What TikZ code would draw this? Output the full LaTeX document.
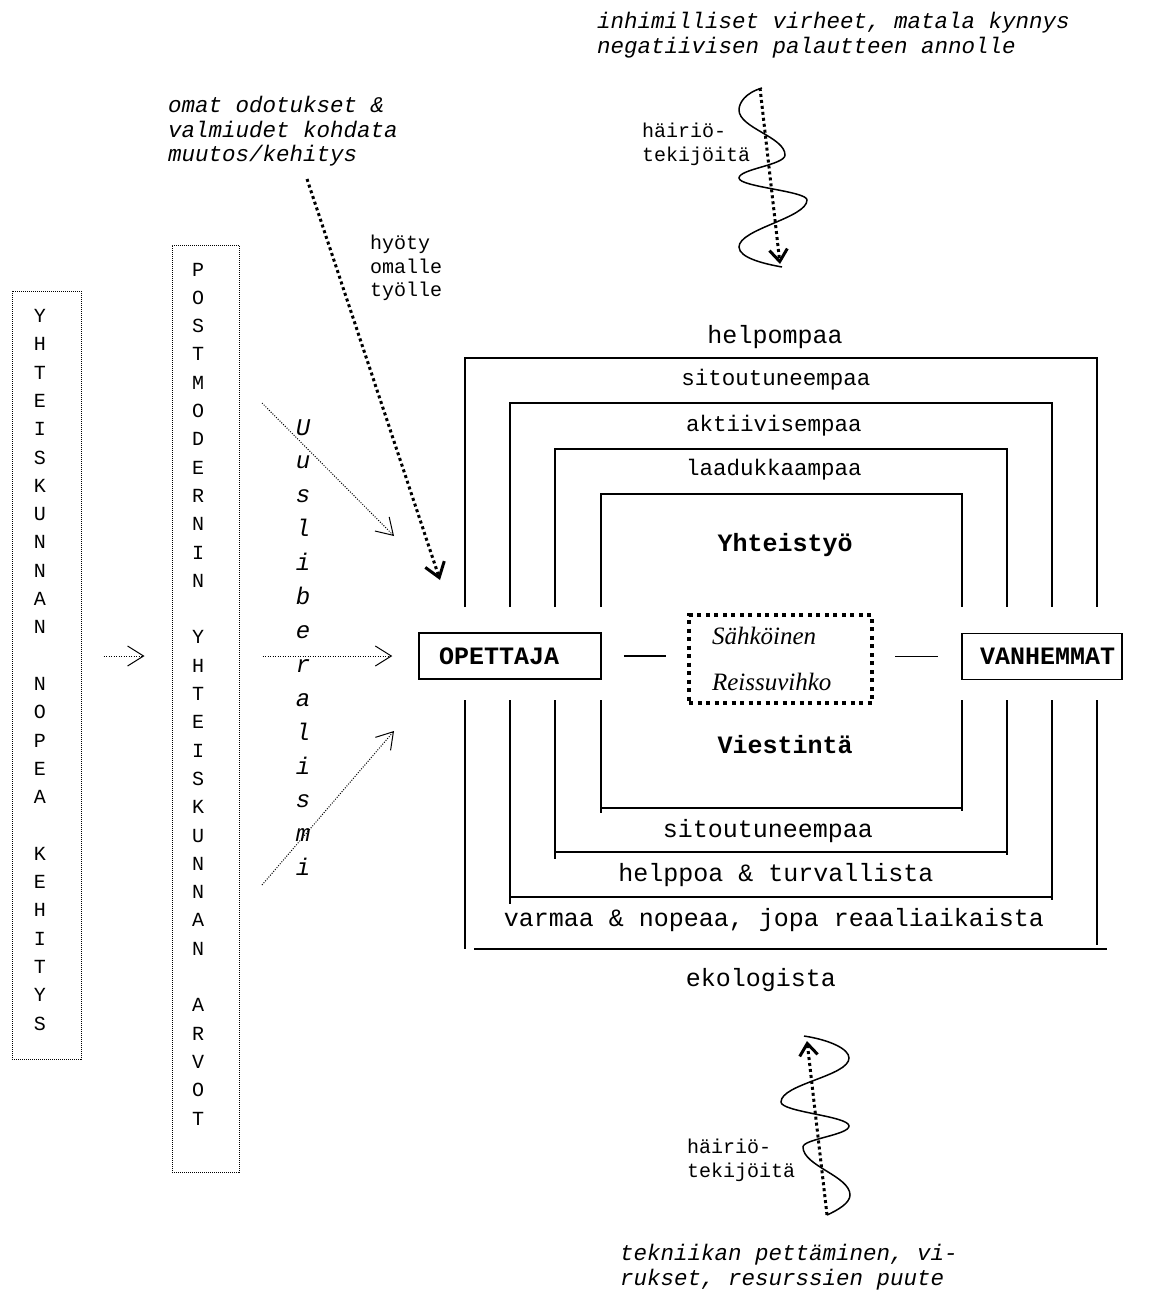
\documentclass[tikz,border=0pt]{standalone}
\usepackage{fontspec}
\setmainfont{Liberation Serif}
\newfontfamily\monof{Liberation Mono}
\usetikzlibrary{arrows.meta}
\tikzset{
  lblL/.style={font=\monof\fontsize{25}{30}\selectfont, inner sep=0pt},
  lblM/.style={font=\monof\fontsize{22.5}{27}\selectfont, inner sep=0pt},
  boldlbl/.style={font=\monof\bfseries\fontsize{25}{30}\selectfont, inner sep=0pt},
  itx/.style={font=\monof\itshape\fontsize{22.5}{24.5}\selectfont, inner sep=0pt, align=left, anchor=north west},
  smx/.style={font=\monof\fontsize{20}{23.5}\selectfont, inner sep=0pt, align=left, anchor=north west},
  vlet/.style={font=\monof\fontsize{20}{24}\selectfont, inner sep=0pt, anchor=base},
  ulet/.style={font=\monof\itshape\fontsize{24}{28}\selectfont, inner sep=0pt, anchor=base},
  frm/.style={line width=1.5pt},
  actor/.style={draw, line width=1.5pt, font=\monof\bfseries\fontsize{25}{30}\selectfont,
    inner xsep=5pt, inner ysep=0pt, minimum height=46pt},
  srbox/.style={draw, line width=4pt, dash pattern=on 4pt off 4.5pt,
    minimum width=183pt, minimum height=88pt, text width=137pt, inner xsep=23pt,
    align=left, font=\itshape\fontsize{25}{46}\selectfont},
  vbox/.style={draw, line width=1pt, dash pattern=on 1pt off 1pt},
  thinarr/.style={line width=1pt, dash pattern=on 1pt off 1.5pt,
    -{Straight Barb[length=16pt,width=20pt]}},
  thickarr/.style={line width=3pt, dash pattern=on 3pt off 3pt,
    -{Straight Barb[length=14pt,width=20pt]}},
  wavearr/.style={line width=3pt, dash pattern=on 3pt off 3pt,
    -{Straight Barb[length=12pt,width=18pt]}},
  wavy/.style={line width=1.5pt},
  conn/.style={line width=1.5pt},
}
\begin{document}
\begin{tikzpicture}[x=1pt,y=-1pt]
\fill[white] (0,0) rectangle (1152,1300);
\useasboundingbox (0,0) rectangle (1152,1300);

% ---------- texts top ----------
\node[itx] (virheet) at (597,12) {inhimilliset virheet, matala kynnys\\negatiivisen palautteen annolle};
\node[itx] (odotukset) at (168,96) {omat odotukset \&\\valmiudet kohdata\\muutos/kehitys};
\node[smx] (hyoty) at (370,235) {hyöty\\omalle\\työlle};
\node[smx] (hairio1) at (642,123) {häiriö-\\tekijöitä};

% ---------- left columns ----------
\node[vbox, minimum width=69pt, minimum height=768pt] (col1) at (46.5,675) {};
\node[vbox, minimum width=67pt, minimum height=927pt] (col2) at (205.5,708.5) {};
\foreach \ch [count=\i from 0] in {Y,H,T,E,I,S,K,U,N,N,A,N,{},N,O,P,E,A,{},K,E,H,I,T,Y,S}
  \node[vlet] (ca\i) at (40,322.5+\i*28.3) {\ch};
\foreach \ch [count=\i from 0] in {P,O,S,T,M,O,D,E,R,N,I,N,{},Y,H,T,E,I,S,K,U,N,N,A,N,{},A,R,V,O,T}
  \node[vlet] (cb\i) at (198,276+\i*28.3) {\ch};
\foreach \ch [count=\i from 0] in {U,u,s,l,i,b,e,r,a,l,i,s,m,i}
  \node[ulet] (ul\i) at (303,435+\i*33.9) {\ch};

% ---------- actors ----------
\node[actor] (ope) at (510,656) {\makebox[172pt][l]{\hspace*{15pt}OPETTAJA}};
\node[actor] (van) at (1042,656.5) {\makebox[150pt][l]{\hspace*{13pt}VANHEMMAT}};
\node[srbox] (sr) at (780.5,659) {Sähköinen\\Reissuvihko};

% ---------- frames top ----------
\draw[frm] (465,607) -- (465,358) -- (1097,358) -- (1097,607);
\draw[frm] (510,607) -- (510,403) -- (1052,403) -- (1052,607);
\draw[frm] (555,607) -- (555,449) -- (1007,449) -- (1007,607);
\draw[frm] (601,607) -- (601,494) -- (962,494) -- (962,607);
% ---------- frames bottom ----------
\draw[frm] (601,700) -- (601,813);
\draw[frm] (601,808) -- (962,808);
\draw[frm] (962,700) -- (962,811);
\draw[frm] (555,700) -- (555,859);
\draw[frm] (555,852) -- (1007,852);
\draw[frm] (1007,700) -- (1007,855);
\draw[frm] (510,700) -- (510,904);
\draw[frm] (510,897) -- (1052,897);
\draw[frm] (1052,700) -- (1052,900);
\draw[frm] (465,700) -- (465,949);
\draw[frm] (474,949) -- (1107,949);
\draw[frm] (1097,700) -- (1097,945);

% ---------- frame labels ----------
\node[lblL] (l1) at (775,337) {helpompaa};
\node[lblM] (l2) at (776,380) {sitoutuneempaa};
\node[lblM] (l3) at (774,426) {aktiivisempaa};
\node[lblM] (l4) at (774,470) {laadukkaampaa};
\node[boldlbl] (yht) at (785,545) {Yhteistyö};
\node[boldlbl] (vies) at (785,745) {Viestintä};
\node[lblL] (b1) at (768,831) {sitoutuneempaa};
\node[lblL] (b2) at (776,875) {helppoa \& turvallista};
\node[lblL] (b3) at (774,920) {varmaa \& nopeaa, jopa reaaliaikaista};
\node[lblL] (b4) at (761,980) {ekologista};

% ---------- connectors ----------
\draw[conn, shorten <=22pt, shorten >=21pt] (ope.east) -- (sr.west |- ope.east);
\draw[conn, shorten <=21pt, shorten >=23pt] (sr.east |- van.west) -- (van.west);
\draw[thinarr, shorten <=22pt, shorten >=27pt] (col1.east |- ope.west) -- (col2.west |- ope.west);
\draw[thinarr, shorten <=23pt, shorten >=26pt] (col2.east |- ope.west) -- (ope.west);
\coordinate (upS) at (262,403);
\coordinate (upE) at (394,536);
\coordinate (loS) at (262,885);
\coordinate (loE) at (394,731);
\draw[thinarr] (upS) -- (upE);
\draw[thinarr] (loS) -- (loE);
\coordinate (thS) at (307,179);
\coordinate (thE) at (440,580);
\draw[thickarr] (thS) -- (thE);

% ---------- top disturbance ----------
\coordinate (tdS) at (760,88);
\coordinate (tdE) at (780,264);
\draw[wavearr] (tdS) -- (tdE);
\draw[wavy] (762,88) .. controls (745,93) and (739,103) .. (739,110)
  .. controls (739,128) and (785,137) .. (785,155)
  .. controls (785,165) and (739,169) .. (739,178)
  .. controls (739,187) and (807,191) .. (807,200)
  .. controls (807,218) and (739,229) .. (739,247)
  .. controls (739,258) and (765,264) .. (782,267);

% ---------- bottom disturbance ----------
\coordinate (bdS) at (827,1215);
\coordinate (bdE) at (807,1041);
\draw[wavearr] (bdS) -- (bdE);
\draw[wavy] (804,1036) .. controls (830,1040) and (849,1049) .. (849,1058)
  .. controls (849,1076) and (781,1084) .. (781,1102)
  .. controls (781,1112) and (849,1116) .. (849,1126)
  .. controls (849,1135) and (803,1139) .. (803,1147)
  .. controls (803,1166) and (850,1176) .. (850,1195)
  .. controls (850,1203) and (838,1210) .. (827,1215);
\node[smx] (hairio2) at (687,1139) {häiriö-\\tekijöitä};
\node[itx] (tekniikka) at (620,1244) {tekniikan pettäminen, vi-\\rukset, resurssien puute};
\end{tikzpicture}
\end{document}
